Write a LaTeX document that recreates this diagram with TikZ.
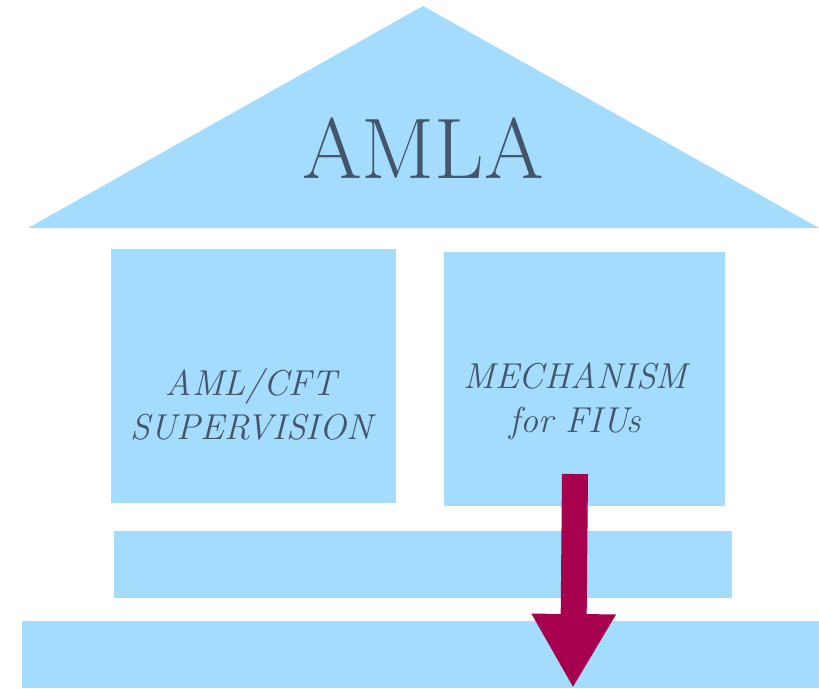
\documentclass[tikz,border=0pt]{standalone}
\usetikzlibrary{arrows.meta}

\definecolor{pillarblue}{HTML}{A4DCFE}
\definecolor{slatetext}{HTML}{44546A}
\definecolor{berry}{HTML}{A6004F}

\begin{document}
\begin{tikzpicture}[x=1pt,y=-1pt,
  block/.style={fill=pillarblue,draw=none,inner sep=0pt,rectangle},
  pillartext/.style={text=slatetext,align=center,font=\fontsize{36}{44}\selectfont\itshape}]
\useasboundingbox (0,0) rectangle (819,688);

% roof
\fill[pillarblue] (423,6) -- (819,228) -- (28,228) -- cycle;
\node[text=slatetext,font=\fontsize{86}{96}\selectfont] (amla) at (423,148) {AMLA};

% pillars
\node[block,minimum width=285pt,minimum height=254pt] (supervision) at (253.5,376) {};
\node[block,minimum width=281pt,minimum height=254pt] (mechanism) at (584.5,379) {};
\node[pillartext] (suplabel) at ([xshift=-2pt,yshift=-28pt]supervision.center) {AML/CFT\\SUPERVISION};
\node[pillartext] (mechlabel) at ([xshift=-9pt,yshift=-22pt]mechanism.center) {MECHANISM\\for FIUs};

% steps
\node[block,minimum width=618pt,minimum height=67pt] (upperstep) at (423,564.5) {};
\node[block,minimum width=797pt,minimum height=67pt] (lowerstep) at (420.5,654.5) {};

% arrow
\coordinate (arrowtop) at (575,474);
\coordinate (arrowtip) at (573,688);
\draw[berry,line width=26pt,-{Triangle[length=74pt,width=79pt]}] (arrowtop) -- (arrowtip);
\end{tikzpicture}
\end{document}
